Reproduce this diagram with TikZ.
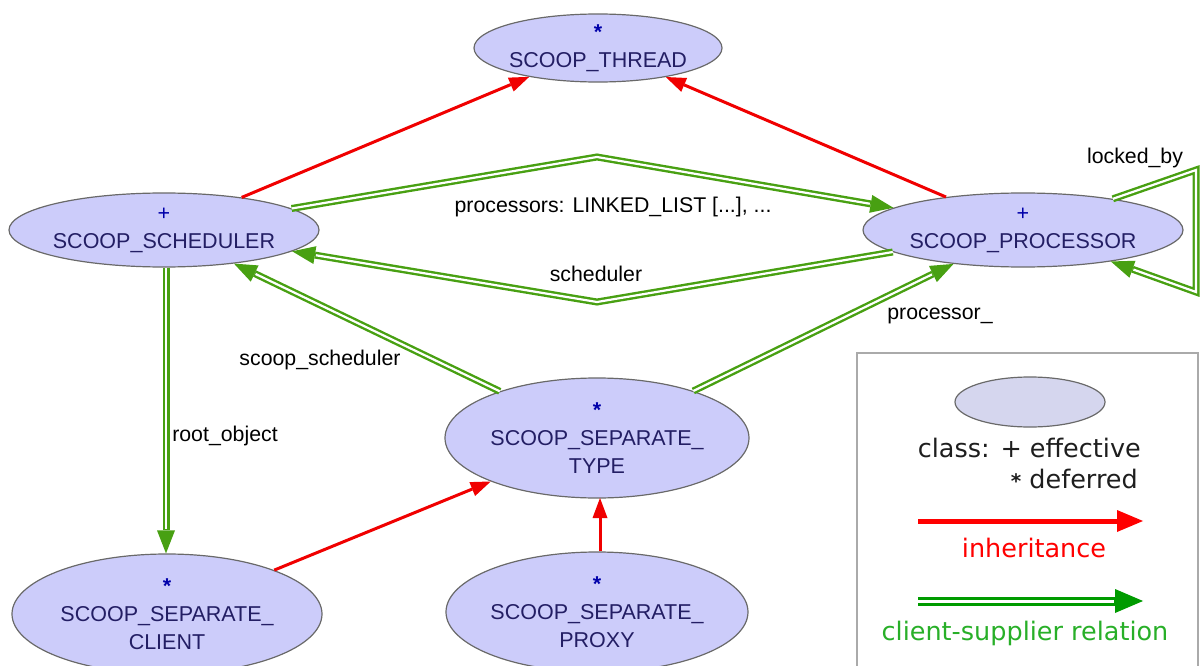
\documentclass[tikz,border=0pt]{standalone}
\usepackage{fontspec}
\setmainfont{Liberation Sans}
\newfontfamily\legfont{DejaVu Sans}
\usetikzlibrary{shapes.geometric,arrows.meta}
\definecolor{nodefill}{RGB}{204,204,250}
\definecolor{nodedraw}{RGB}{105,105,105}
\definecolor{nodetext}{RGB}{35,30,100}
\definecolor{symb}{RGB}{0,0,170}
\definecolor{cgreen}{RGB}{72,160,18}
\definecolor{inhred}{RGB}{240,0,0}
\definecolor{lgreen}{RGB}{0,155,0}
\definecolor{ltext}{RGB}{40,175,40}
\definecolor{legfill}{RGB}{213,214,238}
\definecolor{boxdraw}{RGB}{170,170,170}
\definecolor{legdark}{RGB}{30,30,30}
\newcommand\clsplus{{\color{symb}+}}
\newcommand\clsstar{{\color{symb}\textbf{*}}}
\begin{document}
\begin{tikzpicture}[x=1pt,y=-1pt,
  cls/.style={ellipse, draw=nodedraw, line width=1.2pt, fill=nodefill,
    inner xsep=-60pt, inner ysep=-30pt, align=center, text=nodetext,
    font=\fontsize{21.5}{28}\selectfont},
  lbl/.style={inner sep=0pt, text=black, font=\fontsize{21.3}{24}\selectfont},
  inh/.style={draw=inhred, line width=3pt,
    -{Triangle[length=20pt,width=15pt,line width=0pt]}},
  csout/.style={draw=cgreen, line width=7pt,
    -{Triangle[length=23pt,width=18pt,line width=0pt]}},
  csin/.style={draw=white, line width=2.2pt, shorten >=24pt},
  legtxt/.style={inner sep=0pt, font=\legfont\fontsize{25.5}{30}\selectfont}
]
\useasboundingbox (0,0) rectangle (1200,666);
\clip (0,0) rectangle (1200,666);

% classes
\node[cls, minimum width=248pt, minimum height=68pt] (thread) at (598,48) {\clsstar\\SCOOP\_THREAD};
\node[cls, minimum width=310pt, minimum height=74pt] (sched) at (164,230) {\clsplus\\SCOOP\_SCHEDULER};
\node[cls, minimum width=320pt, minimum height=74pt] (proc) at (1023,230) {\clsplus\\SCOOP\_PROCESSOR};
\node[cls, minimum width=304pt, minimum height=120pt] (type) at (597,438) {\clsstar\\SCOOP\_SEPARATE\_\\TYPE};
\node[cls, minimum width=310pt, minimum height=120pt] (client) at (167,614) {\clsstar\\SCOOP\_SEPARATE\_\\CLIENT};
\node[cls, minimum width=302pt, minimum height=120pt] (proxy) at (597,612) {\clsstar\\SCOOP\_SEPARATE\_\\PROXY};

% inheritance
\draw[inh] (sched) -- (thread);
\draw[inh] (proc) -- (thread);
\draw[inh] (client) -- (type);
\draw[inh] (proxy.north -| 600,0) -- (600,498);

% client-supplier
\coordinate (ptop) at (597,157);
\coordinate (pbot) at (597,302);
\coordinate (lk1) at (1196,170);
\coordinate (lk2) at (1196,292);
\draw[csout] (sched) -- (ptop) -- (proc);
\draw[csin]  (sched) -- (ptop) -- (proc);
\draw[csout] (proc) -- (pbot) -- (sched);
\draw[csin]  (proc) -- (pbot) -- (sched);
\draw[csout] (sched.south -| 166,0) -- (client.north -| 166,0);
\draw[csin]  (sched.south -| 166,0) -- (client.north -| 166,0);
\draw[csout] (type) -- (sched);
\draw[csin]  (type) -- (sched);
\draw[csout] (type) -- (proc);
\draw[csin]  (type) -- (proc);
\draw[csout] (proc) -- (lk1) -- (lk2) -- (proc);
\draw[csin]  (proc) -- (lk1) -- (lk2) -- (proc);

% labels
\node[lbl] (lprocs) at (613,207) {processors: LINKED\_LIST [...], ...};
\node[lbl] (lsched) at (596,274) {scheduler};
\node[lbl] (lscoop) at (320,360) {scoop\_scheduler};
\node[lbl] (lroot) at (225,436) {root\_object};
\node[lbl] (lproc) at (940,316) {processor\_};
\node[lbl] (llock) at (1135,158) {locked\_by};

% legend
\draw[draw=boxdraw, line width=1.5pt] (857,353) rectangle (1198,690);
\node[ellipse, draw=nodedraw, line width=1.2pt, fill=legfill, minimum width=150pt, minimum height=50pt, inner sep=0pt] (legell) at (1030,402) {};
\node[legtxt, text=legdark, anchor=base east] (legc) at (1141,457) {class: + effective};
\node[legtxt, text=legdark, anchor=base east] (legd) at (1138,488) {{\fontsize{20}{24}\selectfont\textbf{*}} deferred};
\coordinate (lr1) at (918,521);
\coordinate (lr2) at (1143,521);
\draw[draw=red, line width=5pt, -{Triangle[length=26pt,width=22pt,line width=0pt]}] (lr1) -- (lr2);
\node[legtxt, text=red] (legi) at (1034,548) {inheritance};
\coordinate (lg1) at (918,601);
\coordinate (lg2) at (1143,601);
\draw[draw=lgreen, line width=9pt, -{Triangle[length=28pt,width=24pt,line width=0pt]}] (lg1) -- (lg2);
\draw[draw=white, line width=3pt, shorten >=29pt] (lg1) -- (lg2);
\node[legtxt, text=ltext] (legcs) at (1025,633) {client-supplier relation};
\end{tikzpicture}
\end{document}
